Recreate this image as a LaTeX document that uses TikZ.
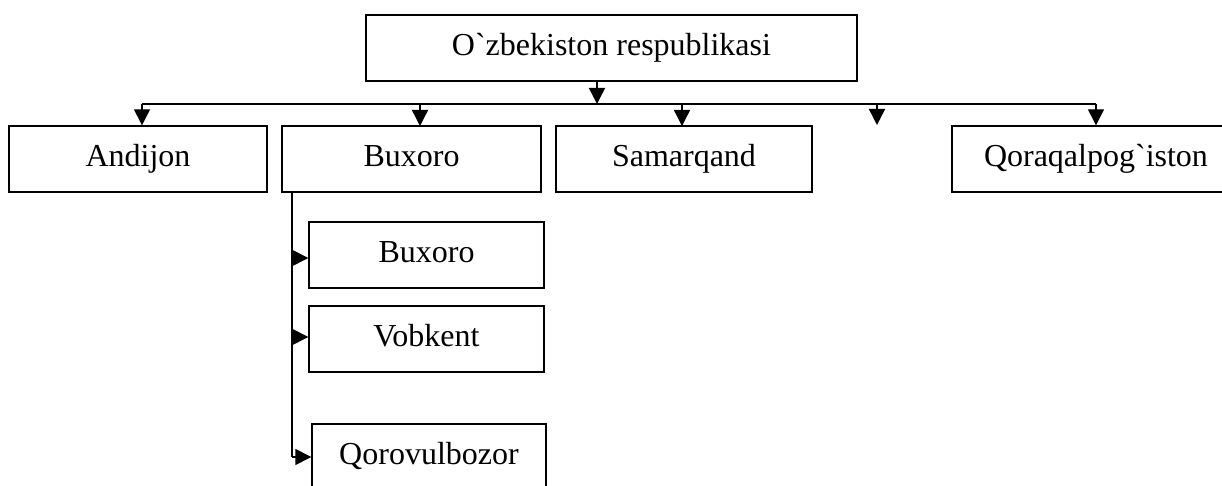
\documentclass[tikz,border=0pt]{standalone}
\usepackage{fontspec}
\setmainfont{Liberation Serif}[Ligatures=TeXOff]
\usetikzlibrary{arrows.meta}
\tikzset{
  box/.style={draw, line width=0.7pt, inner sep=0pt, minimum height=33pt, text height=11pt, text depth=3pt, font=\fontsize{16}{19}\selectfont},
  arr/.style={line width=0.7pt, -{Triangle[length=8pt,width=8pt]}},
  ln/.style={line width=0.7pt}
}
\begin{document}
\begin{tikzpicture}[x=0.5pt,y=-0.5pt]
\useasboundingbox (0,0) rectangle (1222,486);
\clip (0,0) rectangle (1222,486);
\node[box, minimum width=245.5pt] (top) at (611.5,48) {O`zbekiston respublikasi};
\node[box, minimum width=129pt] (and) at (138,159) {Andijon};
\node[box, minimum width=129.5pt] (bux) at (411.5,159) {Buxoro};
\node[box, minimum width=128pt] (sam) at (684,159) {Samarqand};
\node[box, minimum width=144pt] (qor) at (1096,159) {Qoraqalpog`iston};
\node[box, minimum width=117.5pt] (s1) at (426.5,255) {Buxoro};
\node[box, minimum width=117.5pt] (s2) at (426.5,339) {Vobkent};
\node[box, minimum width=117pt] (s3) at (429,457) {Qorovulbozor};
% bus
\coordinate (bL) at (142,104);
\coordinate (bR) at (1096,104);
\coordinate (bT) at (597,104);
\coordinate (free) at (877,125);
\draw[arr] (top.south -| bT) -- (bT);
\draw[ln] (bL) -- (bR);
\draw[arr] (bL) -- (bL |- and.north);
\draw[arr] (420,104) -- (420,126);
\draw[arr] (682,104) -- (682,126);
\draw[arr] (877,104) -- (free);
\draw[arr] (bR) -- (bR |- qor.north);
% sub tree
\coordinate (v0) at (292,192);
\coordinate (v3) at (292,457);
\draw[ln] (v0) -- (v3);
\draw[arr] (292,258) -- (s1.west |- 0,258);
\draw[arr] (292,337) -- (s2.west |- 0,337);
\draw[arr] (v3) -- (s3.west);
\end{tikzpicture}
\end{document}
